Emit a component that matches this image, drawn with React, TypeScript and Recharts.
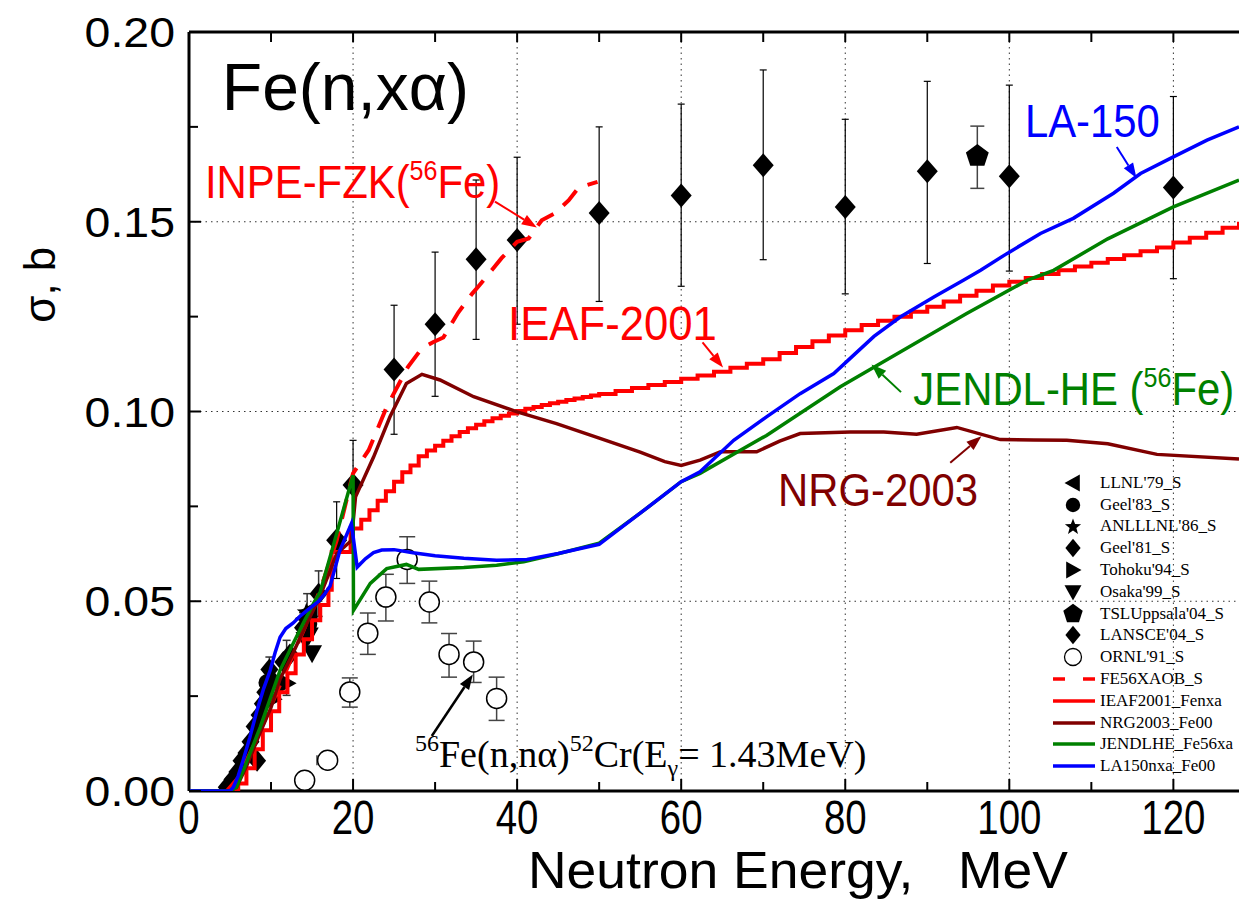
import React from 'react';
import {
  ComposedChart,
  Line,
  Scatter,
  XAxis,
  YAxis,
  ErrorBar,
  ReferenceLine,
  ReferenceDot,
  Legend,
} from 'recharts';

const SANS = '"Liberation Sans", Arial, Helvetica, sans-serif';
const SERIF = '"Liberation Serif", "Times New Roman", Times, serif';

const RED = '#ff0000';
const DARK_RED = '#800000';
const GREEN = '#008000';
const BLUE = '#0000ff';

// axes
const X_TICKS = [0, 10, 20, 30, 40, 50, 60, 70, 80, 90, 100, 110, 120];
const X_GRID = [20, 40, 60, 80, 100, 120];
const Y_TICKS = [0, 0.025, 0.05, 0.075, 0.1, 0.125, 0.15, 0.175, 0.2];
const Y_GRID = [0.05, 0.1, 0.15];

// measurements: [E MeV, sigma b, bar low, bar high]
const LANSCE04: number[][] = [
  [18.0, 0.0661, 0.056, 0.0762],
  [20.0, 0.0806, 0.069, 0.0924],
  [25, 0.1111, 0.094, 0.128],
  [30, 0.123, 0.104, 0.142],
  [35, 0.1401, 0.119, 0.161],
  [40, 0.1452, 0.123, 0.167],
  [50, 0.1523, 0.129, 0.175],
  [60, 0.1569, 0.133, 0.181],
  [70, 0.1649, 0.14, 0.19],
  [80, 0.1539, 0.131, 0.177],
  [90, 0.1633, 0.139, 0.187],
  [100, 0.162, 0.137, 0.186],
  [120, 0.159, 0.135, 0.183],
];

const GEEL81: number[][] = [
  [4.6, 0.001, 0.001, 0.001],
  [5.3, 0.003, 0.003, 0.003],
  [5.9, 0.005, 0.005, 0.005],
  [6.4, 0.008, 0.008, 0.008],
  [7.0, 0.01, 0.01, 0.01],
  [7.5, 0.013, 0.013, 0.013],
  [8.0, 0.017, 0.017, 0.017],
  [8.3, 0.008, 0.008, 0.008],
  [8.6, 0.02, 0.02, 0.02],
  [9.0, 0.023, 0.023, 0.023],
  [9.3, 0.026, 0.026, 0.026],
  [9.8, 0.032, 0.029, 0.0353],
  [10.2, 0.029, 0.029, 0.029],
  [11.5, 0.034, 0.034, 0.034],
  [12.3, 0.036, 0.036, 0.036],
  [13.9, 0.043, 0.04, 0.047],
  [14.4, 0.046, 0.041, 0.052],
  [15.8, 0.052, 0.046, 0.058],
];

const LLNL79: number[][] = [
  [14.1, 0.0455, 0.0455, 0.0455],
  [14.7, 0.0475, 0.0475, 0.0475],
];
const GEEL83: number[][] = [
  [14.6, 0.044, 0.044, 0.044],
  [9.5, 0.0285, 0.0285, 0.0285],
];
const ANLLLNL86: number[][] = [[14.3, 0.047, 0.047, 0.047]];
const TOHOKU94: number[][] = [
  [11.9, 0.0284, 0.0252, 0.0397],
  [10.2, 0.0242, 0.0242, 0.0242],
];
const OSAKA99: number[][] = [
  [14.2, 0.0398, 0.0398, 0.0398],
  [15.0, 0.0363, 0.0363, 0.0363],
  [14.6, 0.041, 0.041, 0.041],
];
const TSL04: number[][] = [[96.1, 0.1673, 0.1588, 0.1752]];

// ORNL'91 gamma-line data: [E, sigma, low, high, E low, E high]
const ORNL91: number[][] = [
  [14.1, 0.0028, 0.0018, 0.0038, 14.1, 14.1],
  [16.9, 0.0081, 0.0068, 0.0094, 15.6, 18.0],
  [19.6, 0.0261, 0.0221, 0.0298, 19.6, 19.6],
  [21.8, 0.0416, 0.036, 0.0469, 21.8, 21.8],
  [24.0, 0.0511, 0.0448, 0.0571, 24.0, 24.0],
  [26.6, 0.061, 0.0547, 0.067, 26.6, 26.6],
  [29.3, 0.0498, 0.0443, 0.0553, 29.3, 29.3],
  [31.7, 0.036, 0.03, 0.0415, 31.7, 31.7],
  [34.7, 0.034, 0.0286, 0.0395, 34.7, 34.7],
  [37.5, 0.0244, 0.0186, 0.03, 37.5, 37.5],
];

// evaluations: [E, sigma]
const FE56XAOB: number[][] = [
  [4.6, 0], [6, 0.0035], [8, 0.0125], [10, 0.0225], [12, 0.0325], [14, 0.0425],
  [16, 0.053], [18, 0.066], [20, 0.0837], [21.9, 0.0898], [24.1, 0.1012],
  [26.7, 0.1118], [28.4, 0.1167], [29.8, 0.1183], [31.0, 0.1195], [32.8, 0.126],
  [34.5, 0.131], [35.3, 0.133], [36.9, 0.1372], [38.1, 0.1404], [40.0, 0.1447],
  [41.4, 0.1456], [43.0, 0.1504], [44.6, 0.1522], [46.3, 0.1557], [47.5, 0.159],
  [49.8, 0.1605],
];

const IEAF2001: number[][] = [
  [0, 0], [5, 0], [6, 0.002], [7, 0.006], [8, 0.011], [9, 0.016], [10, 0.021],
  [11, 0.026], [12, 0.031], [13, 0.036], [14, 0.04], [15, 0.045], [16, 0.049],
  [17, 0.053], [17.4, 0.063], [19.7, 0.0692], [21, 0.0715], [22, 0.074],
  [23, 0.0765], [24, 0.079], [25, 0.0815], [26, 0.084], [27, 0.0858],
  [28, 0.0882], [29, 0.0897], [30, 0.091], [31, 0.0923], [32, 0.0935],
  [33, 0.0946], [34, 0.0956], [35, 0.0965], [36, 0.0974], [37, 0.0982],
  [38, 0.0989], [39, 0.0995], [40, 0.1001], [41, 0.1007], [42, 0.1012],
  [43, 0.1017], [44, 0.1022], [45, 0.1026], [46, 0.103], [47, 0.1034],
  [48, 0.1038], [49, 0.1042], [50, 0.1046], [52, 0.1054], [54, 0.1062],
  [56, 0.107], [58, 0.1078], [60, 0.1086], [62, 0.1095], [64, 0.1105],
  [66, 0.1115], [68, 0.1126], [70, 0.1138], [72, 0.1154], [74, 0.117],
  [76, 0.1185], [78, 0.12], [80, 0.1214], [82, 0.1228], [84, 0.1239],
  [86, 0.125], [88, 0.1263], [90, 0.1276], [92, 0.129], [94, 0.1305],
  [96, 0.1318], [98, 0.1332], [100, 0.1342], [102, 0.1352], [104, 0.1362],
  [106, 0.1372], [108, 0.1382], [110, 0.1392], [112, 0.1402], [114, 0.1412],
  [116, 0.1422], [118, 0.1432], [120, 0.1445], [122, 0.1458], [124, 0.1471],
  [126, 0.1484], [128, 0.15],
];

const NRG2003: number[][] = [
  [0, 0], [5.0, 0], [5.8, 0.001], [7.0, 0.0065], [8.7, 0.0155], [10, 0.022],
  [11.1, 0.0295], [12.5, 0.0355], [14, 0.0425], [16, 0.0515], [18, 0.0625],
  [19.8, 0.066], [20.3, 0.0775], [22.5, 0.088], [24.5, 0.0986], [26.5, 0.1074],
  [28.4, 0.1098], [30.6, 0.1083], [34.7, 0.1039], [40, 0.0999], [44.8, 0.0968],
  [50.1, 0.0929], [55, 0.0893], [58, 0.0868], [60, 0.0858], [62.3, 0.0872],
  [64.8, 0.0894], [69.2, 0.0894], [72, 0.0922], [74.5, 0.0942], [80.6, 0.0946],
  [84.7, 0.0946], [88.7, 0.094], [93.6, 0.0958], [98.9, 0.0926], [103, 0.0925],
  [107, 0.0924], [112, 0.0915], [118, 0.0887], [128, 0.0875],
];

const JENDLHE: number[][] = [
  [0, 0], [5.0, 0], [5.8, 0.001], [7.0, 0.0075], [8.7, 0.0169], [11.1, 0.0318],
  [12.5, 0.038], [14.0, 0.0445], [15.2, 0.0495], [16.0, 0.0525], [18.0, 0.0678],
  [20.0, 0.0832], [20.05, 0.0476], [22.1, 0.0547], [24.1, 0.0586], [26.5, 0.0597],
  [28.0, 0.0584], [33.5, 0.0589], [37.5, 0.0595], [40.8, 0.0604], [45, 0.0625],
  [50, 0.0653], [55, 0.0732], [60, 0.0815], [62.3, 0.0837], [70.4, 0.0937],
  [79.4, 0.1065], [86.7, 0.1157], [94.8, 0.1258], [102.2, 0.1346],
  [105.4, 0.1372], [112, 0.1455], [120, 0.1539], [128, 0.161],
];

const LA150: number[][] = [
  [0, 0], [5.0, 0], [5.4, 0.001], [6.0, 0.004], [6.6, 0.0081], [7.4, 0.014],
  [8.3, 0.0213], [9.1, 0.027], [9.9, 0.0318], [10.5, 0.0365], [11.1, 0.0405],
  [11.8, 0.0428], [12.7, 0.0443], [13.5, 0.046], [14.4, 0.0476], [15.1, 0.0488],
  [15.8, 0.05], [16.5, 0.0518], [17.2, 0.054], [18.4, 0.0634], [19.8, 0.0705],
  [20.5, 0.059], [21.5, 0.0612], [22.5, 0.0628], [23.5, 0.0635], [25.0, 0.0636],
  [27.3, 0.0628], [30.0, 0.062], [33.5, 0.0613], [37.5, 0.0608], [41.2, 0.061],
  [45, 0.0626], [50, 0.065], [55, 0.0732], [60, 0.0815], [62.3, 0.0841],
  [66.4, 0.0924], [70.4, 0.0986], [74.5, 0.1047], [78.6, 0.11], [80.6, 0.114],
  [83.5, 0.1198], [86.7, 0.1249], [90.8, 0.1302], [94.4, 0.1346], [96.5, 0.1372],
  [99.7, 0.1416], [103.8, 0.1469], [107.8, 0.1509], [112.7, 0.1575],
  [116.0, 0.1627], [120.0, 0.1671], [124.1, 0.1715], [128, 0.175],
];

const toLine = (rows: number[][]) => rows.map(([x, y]) => ({ x, y }));
const toPoints = (rows: number[][]) =>
  rows.map(([x, y, lo, hi, elo, ehi]) => ({
    x,
    y,
    err: [y - lo, hi - y],
    xerr: elo === undefined ? [0, 0] : [x - elo, ehi - x],
  }));

// marker paths
const diamond = (cx: number, cy: number, w: number, h: number) =>
  `M${cx},${cy - h}L${cx + w},${cy}L${cx},${cy + h}L${cx - w},${cy}Z`;
const triLeft = (cx: number, cy: number, s: number) =>
  `M${cx - s},${cy}L${cx + s * 0.8},${cy - s}L${cx + s * 0.8},${cy + s}Z`;
const triRight = (cx: number, cy: number, s: number) =>
  `M${cx + s},${cy}L${cx - s * 0.8},${cy - s}L${cx - s * 0.8},${cy + s}Z`;
const triDown = (cx: number, cy: number, s: number) =>
  `M${cx - s},${cy - s * 0.8}L${cx + s},${cy - s * 0.8}L${cx},${cy + s}Z`;
const polygon = (cx: number, cy: number, r: number, n: number, inner?: number) => {
  const pts: string[] = [];
  const count = inner ? n * 2 : n;
  for (let i = 0; i < count; i++) {
    const rr = inner && i % 2 === 1 ? inner : r;
    const a = -Math.PI / 2 + (i * 2 * Math.PI) / count;
    pts.push(`${cx + rr * Math.cos(a)},${cy + rr * Math.sin(a)}`);
  }
  return `M${pts.join('L')}Z`;
};

type Kind = 'left' | 'circle' | 'star' | 'diamond' | 'right' | 'down' | 'pentagon' | 'open';

function Marker({ kind, cx, cy, big }: { kind: Kind; cx: number; cy: number; big?: boolean }) {
  switch (kind) {
    case 'left':
      return <path d={triLeft(cx, cy, 10)} fill="#000" />;
    case 'right':
      return <path d={triRight(cx, cy, 10)} fill="#000" />;
    case 'down':
      return <path d={triDown(cx, cy, 10)} fill="#000" />;
    case 'circle':
      return <circle cx={cx} cy={cy} r={8.5} fill="#000" />;
    case 'star':
      return <path d={polygon(cx, cy, 10, 5, 4.2)} fill="#000" />;
    case 'pentagon':
      return <path d={polygon(cx, cy, 12, 5)} fill="#000" />;
    case 'open':
      return <circle cx={cx} cy={cy} r={10} fill="#fff" stroke="#000" strokeWidth={1.5} />;
    default:
      return big ? (
        <path d={diamond(cx, cy, 10.5, 12)} fill="#000" />
      ) : (
        <path d={diamond(cx, cy, 9, 11)} fill="#000" />
      );
  }
}

const markerShape = (kind: Kind, big?: boolean) => (p: any) =>
  <Marker kind={kind} cx={p.cx} cy={p.cy} big={big} />;

function BottomTick({ x, y, payload }: any) {
  const v = payload.value as number;
  const major = v % 20 === 0;
  return (
    <g>
      <line x1={x} y1={y} x2={x} y2={y - (major ? 12 : 9)} stroke="#000" strokeWidth={2} />
      {major && (
        <text
          transform={`translate(${x},${y + 43}) scale(0.8,1)`}
          textAnchor="middle"
          fontFamily={SANS}
          fontSize={48}
          fill="#000"
        >
          {v}
        </text>
      )}
    </g>
  );
}

function TopTick({ x, y }: any) {
  return <line x1={x} y1={y} x2={x} y2={y + 10} stroke="#000" strokeWidth={2} />;
}

function LeftTick({ x, y, payload }: any) {
  const v = payload.value as number;
  const major = Math.round(v * 1000) % 50 === 0;
  return (
    <g>
      <line x1={x} y1={y} x2={x + (major ? 12 : 9)} y2={y} stroke="#000" strokeWidth={2} />
      {major && (
        <text
          transform={`translate(${x - 14},${y + 15}) scale(1.08,1)`}
          textAnchor="end"
          fontFamily={SANS}
          fontSize={43}
          fill="#000"
        >
          {v.toFixed(2)}
        </text>
      )}
    </g>
  );
}

function XLabel({ viewBox }: any) {
  const { x, y, width } = viewBox;
  return (
    <text
      x={x + width * 0.58}
      y={y + 97}
      textAnchor="middle"
      fontFamily={SANS}
      fontSize={52}
      fill="#000"
      textLength={540}
      lengthAdjust="spacingAndGlyphs"
      style={{ whiteSpace: 'pre' }}
    >
      {'Neutron Energy,   MeV'}
    </text>
  );
}

function YLabel({ viewBox }: any) {
  const { x, y, height } = viewBox;
  return (
    <text
      transform={`translate(${x + 55},${y + height * 0.333}) rotate(-90)`}
      textAnchor="middle"
      fontFamily={SANS}
      fontSize={44}
      fill="#000"
    >
      σ, b
    </text>
  );
}

// arrow drawn from the first segment point towards the second
const arrowShape = (color: string, width = 2) => (p: any) => {
  const { x1, y1, x2, y2 } = p;
  const a = Math.atan2(y2 - y1, x2 - x1);
  const len = 15;
  const half = 5.5;
  const bx = x2 - len * Math.cos(a);
  const by = y2 - len * Math.sin(a);
  const nx = -Math.sin(a) * half;
  const ny = Math.cos(a) * half;
  return (
    <g>
      <line x1={x1} y1={y1} x2={bx} y2={by} stroke={color} strokeWidth={width} />
      <polygon points={`${x2},${y2} ${bx + nx},${by + ny} ${bx - nx},${by - ny}`} fill={color} />
    </g>
  );
};

// sans-serif note with an optional "56" superscript before the tail text
const note = (color: string, size: number, head: string, tail?: string, squeeze = 0.91) => (p: any) => (
  <text
    transform={`translate(${p.cx},${p.cy}) scale(${squeeze},1)`}
    fontFamily={SANS}
    fontSize={size}
    fill={color}
  >
    {head}
    {tail !== undefined && (
      <>
        <tspan fontSize={size * 0.6} dy={-size * 0.4}>56</tspan>
        <tspan dy={size * 0.4}>{tail}</tspan>
      </>
    )}
  </text>
);

const titleShape = (p: any) => (
  <text x={p.cx} y={p.cy} fontFamily={SANS} fontSize={66} fill="#000">
    Fe(n,xα)
  </text>
);

const gammaShape = (p: any) => (
  <text x={p.cx} y={p.cy} fontFamily={SERIF} fontSize={38} fill="#000">
    <tspan fontSize={24} dy={-16}>56</tspan>
    <tspan dy={16}>Fe(n,nα)</tspan>
    <tspan fontSize={24} dy={-16}>52</tspan>
    <tspan dy={16}>Cr(E</tspan>
    <tspan fontSize={24} dy={9}>γ</tspan>
    <tspan dy={-9}>= 1.43MeV)</tspan>
  </text>
);

const LEGEND_ITEMS: { name: string; kind?: Kind; color?: string; dash?: boolean }[] = [
  { name: "LLNL'79_S", kind: 'left' },
  { name: "Geel'83_S", kind: 'circle' },
  { name: "ANLLLNL'86_S", kind: 'star' },
  { name: "Geel'81_S", kind: 'diamond' },
  { name: "Tohoku'94_S", kind: 'right' },
  { name: "Osaka'99_S", kind: 'down' },
  { name: "TSLUppsala'04_S", kind: 'pentagon' },
  { name: "LANSCE'04_S", kind: 'diamond' },
  { name: "ORNL'91_S", kind: 'open' },
  { name: 'FE56XAOB_S', color: RED, dash: true },
  { name: 'IEAF2001_Fenxa', color: RED },
  { name: 'NRG2003_Fe00', color: DARK_RED },
  { name: 'JENDLHE_Fe56xa', color: GREEN },
  { name: 'LA150nxa_Fe00', color: BLUE },
];

function LegendBox() {
  return (
    <div style={{ fontFamily: SERIF, fontSize: 17, color: '#000' }}>
      {LEGEND_ITEMS.map((it) => (
        <div key={it.name} style={{ display: 'flex', alignItems: 'center', height: 21.8 }}>
          <svg width={55} height={22} style={{ display: 'block' }}>
            {it.kind ? (
              <g transform="translate(28,11) scale(0.85)">
                <Marker kind={it.kind} cx={0} cy={0} />
              </g>
            ) : (
              <line
                x1={8}
                y1={11}
                x2={50}
                y2={11}
                stroke={it.color}
                strokeWidth={3.5}
                strokeDasharray={it.dash ? '12 18' : undefined}
              />
            )}
          </svg>
          <span style={{ whiteSpace: 'nowrap' }}>{it.name}</span>
        </div>
      ))}
    </div>
  );
}

const lineProps = {
  dataKey: 'y',
  dot: false,
  activeDot: false,
  isAnimationActive: false,
  zIndex: 700,
} as any;

export default function App() {
  return (
    <div style={{ position: 'absolute', left: 0, top: 0, width: 1241, height: 911, background: '#fff' }}>
      <ComposedChart width={1241} height={911} margin={{ top: 22, right: 2, bottom: 0, left: 0 }}>
        <XAxis
          dataKey="x"
          type="number"
          domain={[0, 128]}
          ticks={X_TICKS}
          interval={0}
          tickSize={0}
          tickMargin={0}
          tickLine={false}
          tick={BottomTick}
          axisLine={{ stroke: '#000', strokeWidth: 3 }}
          height={120}
          allowDataOverflow
          label={{ content: XLabel }}
        />
        <XAxis
          xAxisId="top"
          orientation="top"
          dataKey="x"
          type="number"
          domain={[0, 128]}
          ticks={X_TICKS}
          interval={0}
          tickSize={0}
          tickMargin={0}
          tickLine={false}
          tick={TopTick}
          axisLine={{ stroke: '#000', strokeWidth: 3 }}
          height={10}
          allowDataOverflow
        />
        <YAxis
          type="number"
          domain={[0, 0.2]}
          ticks={Y_TICKS}
          interval={0}
          tickSize={0}
          tickMargin={0}
          tickLine={false}
          tick={LeftTick}
          axisLine={{ stroke: '#000', strokeWidth: 3 }}
          width={189}
          allowDataOverflow
          label={{ content: YLabel }}
        />

        {X_GRID.map((v) => (
          <ReferenceLine key={`gx${v}`} x={v} stroke="#333" strokeWidth={1} strokeDasharray="1.5 4" />
        ))}
        {Y_GRID.map((v) => (
          <ReferenceLine key={`gy${v}`} y={v} stroke="#333" strokeWidth={1} strokeDasharray="1.5 4" />
        ))}

        <Scatter name="LLNL'79_S" data={toPoints(LLNL79)} dataKey="y" shape={markerShape('left')} isAnimationActive={false} />
        <Scatter name="Geel'83_S" data={toPoints(GEEL83)} dataKey="y" shape={markerShape('circle')} isAnimationActive={false} />
        <Scatter name="ANLLLNL'86_S" data={toPoints(ANLLLNL86)} dataKey="y" shape={markerShape('star')} isAnimationActive={false} />
        <Scatter name="Geel'81_S" data={toPoints(GEEL81)} dataKey="y" shape={markerShape('diamond')} isAnimationActive={false}>
          <ErrorBar dataKey="err" direction="y" width={4} stroke="#333" strokeWidth={1.5} />
        </Scatter>
        <Scatter name="Tohoku'94_S" data={toPoints(TOHOKU94)} dataKey="y" shape={markerShape('right')} isAnimationActive={false}>
          <ErrorBar dataKey="err" direction="y" width={4} stroke="#333" strokeWidth={1.5} />
        </Scatter>
        <Scatter name="Osaka'99_S" data={toPoints(OSAKA99)} dataKey="y" shape={markerShape('down')} isAnimationActive={false} />
        <Scatter name="TSLUppsala'04_S" data={toPoints(TSL04)} dataKey="y" shape={markerShape('pentagon')} isAnimationActive={false}>
          <ErrorBar dataKey="err" direction="y" width={7} stroke="#444" strokeWidth={1.5} />
        </Scatter>
        <Scatter name="LANSCE'04_S" data={toPoints(LANSCE04)} dataKey="y" shape={markerShape('diamond', true)} isAnimationActive={false}>
          <ErrorBar dataKey="err" direction="y" width={3.5} stroke="#000" strokeWidth={1.2} />
        </Scatter>
        <Scatter name="ORNL'91_S" data={toPoints(ORNL91)} dataKey="y" shape={markerShape('open')} isAnimationActive={false}>
          <ErrorBar dataKey="err" direction="y" width={8} stroke="#444" strokeWidth={1.5} />
          <ErrorBar dataKey="xerr" direction="x" width={5} stroke="#444" strokeWidth={1.5} />
        </Scatter>

        <Line {...lineProps} data={toLine(IEAF2001)} type="stepAfter" stroke={RED} strokeWidth={4} />
        <Line {...lineProps} data={toLine(FE56XAOB)} type="linear" stroke={RED} strokeWidth={4} strokeDasharray="20 13" />
        <Line {...lineProps} data={toLine(NRG2003)} type="linear" stroke={DARK_RED} strokeWidth={3.5} />
        <Line {...lineProps} data={toLine(JENDLHE)} type="linear" stroke={GREEN} strokeWidth={3.5} />
        <Line {...lineProps} data={toLine(LA150)} type="linear" stroke={BLUE} strokeWidth={3.5} />

        <ReferenceDot x={4.0} y={0.1794} r={0} shape={titleShape} />
        <ReferenceDot x={1.95} y={0.1562} r={0} shape={note(RED, 46, 'INPE-FZK(', 'Fe)')} />
        <ReferenceLine segment={[{ x: 37.3, y: 0.1553 }, { x: 42.4, y: 0.1485 }]} shape={arrowShape(RED)} />
        <ReferenceDot x={38.9} y={0.1188} r={0} shape={note(RED, 48, 'IEAF-2001')} />
        <ReferenceLine segment={[{ x: 62.6, y: 0.1182 }, { x: 65.1, y: 0.1116 }]} shape={arrowShape(RED)} />
        <ReferenceDot x={88.3} y={0.1017} r={0} shape={note(GREEN, 46, 'JENDL-HE (', 'Fe)')} />
        <ReferenceLine segment={[{ x: 86.8, y: 0.1051 }, { x: 83.2, y: 0.1124 }]} shape={arrowShape(GREEN)} />
        <ReferenceDot x={71.8} y={0.075} r={0} shape={note(DARK_RED, 46, 'NRG-2003')} />
        <ReferenceLine segment={[{ x: 92.8, y: 0.0865 }, { x: 96.6, y: 0.0935 }]} shape={arrowShape(DARK_RED)} />
        <ReferenceDot x={101.9} y={0.1723} r={0} shape={note(BLUE, 46, 'LA-150')} />
        <ReferenceLine segment={[{ x: 113.1, y: 0.1697 }, { x: 115.5, y: 0.1615 }]} shape={arrowShape(BLUE)} />
        <ReferenceDot x={27.55} y={0.0063} r={0} shape={gammaShape} />
        <ReferenceLine segment={[{ x: 29.6, y: 0.0145 }, { x: 34.6, y: 0.0307 }]} shape={arrowShape('#000', 2.5)} />

        <Legend
          layout="vertical"
          align="center"
          verticalAlign="middle"
          wrapperStyle={{ left: 1045, top: 472, width: 196 }}
          content={() => <LegendBox />}
        />
      </ComposedChart>
    </div>
  );
}
